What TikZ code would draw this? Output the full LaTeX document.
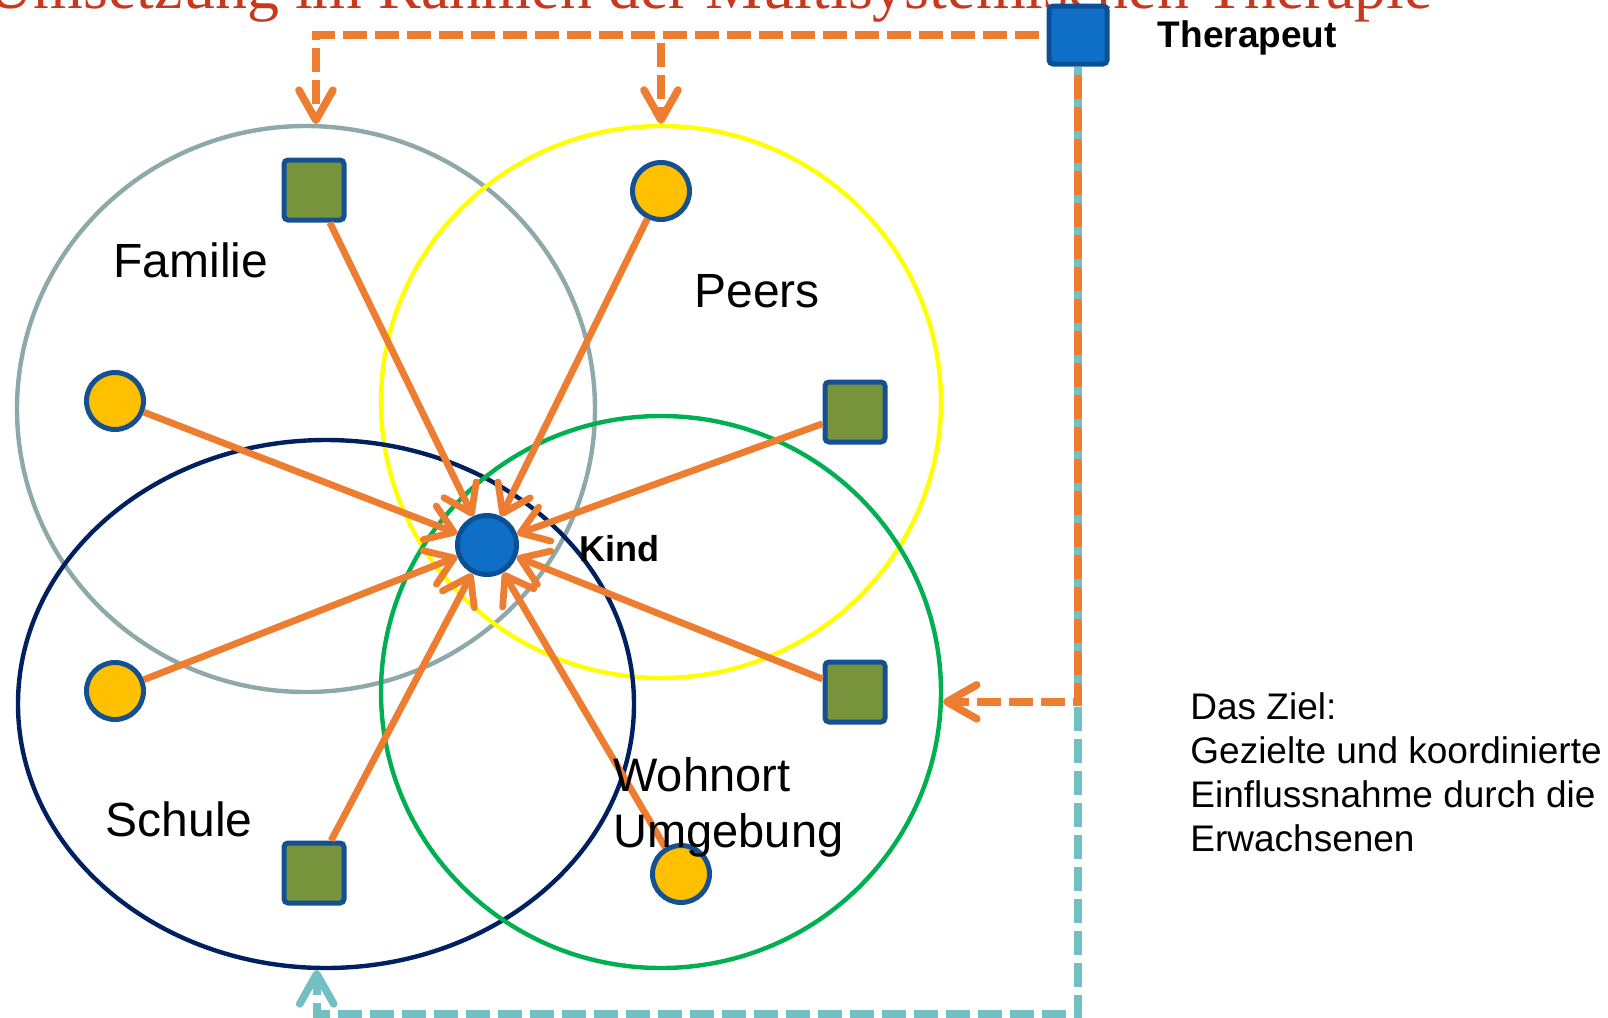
\documentclass[tikz,border=0pt]{standalone}
\usepackage{fontspec}
\setmainfont{Liberation Sans}
\newfontfamily\titelfont{Liberation Serif}
\usetikzlibrary{arrows.meta,positioning,shapes.geometric}
\definecolor{linie}{HTML}{ED7D31}
\definecolor{tuerkis}{HTML}{72BFC4}
\definecolor{grauring}{HTML}{8FA9AA}
\definecolor{gelbring}{HTML}{FFFF00}
\definecolor{marine}{HTML}{002060}
\definecolor{gruenring}{HTML}{00B050}
\definecolor{oliv}{HTML}{77933C}
\definecolor{rand}{HTML}{155192}
\definecolor{gold}{HTML}{FFC000}
\definecolor{blau}{HTML}{0F6FC6}
\definecolor{blaurand}{HTML}{0B4F95}
\definecolor{titelrot}{HTML}{C8381F}
\tikzstyle{system}=[
	ellipse,
	draw,
	line width=2.2pt,
	inner sep=0]
\tikzstyle{erwachsener}=[
	rectangle,
	rounded corners=2pt,
	draw=rand,
	fill=oliv,
	line width=2.5pt,
	minimum size=30pt]
\tikzstyle{person}=[
	circle,
	draw=rand,
	fill=gold,
	line width=2.5pt,
	minimum size=28.5pt]
\tikzstyle{kindpunkt}=[
	person,
	draw=blaurand,
	fill=blau,
	minimum size=29.5pt]
\tikzstyle{beschriftung}=[
	inner sep=0,
	font=\fontsize{24}{28}\selectfont]
\tikzstyle{einfluss}=[
	draw=linie,
	line width=3.4pt,
	-{Straight Barb[length=13pt,width=18pt,round]}]
\tikzstyle{auftrag}=[
	draw=linie,
	line width=3.8pt,
	dash pattern=on 12pt off 4pt,
	dash phase=12pt,
	-{Straight Barb[length=15pt,width=17pt,round]}]
\tikzstyle{rueckmeldung}=[
	auftrag,
	draw=tuerkis,
	dash phase=0pt]

\begin{document}
\begin{tikzpicture}[x=0.5pt,y=-0.5pt]
					\useasboundingbox (0,0) rectangle (1608,1018);
					\node[anchor=base east,inner sep=0,text=titelrot,font=\titelfont\fontsize{32}{36}\selectfont] (titel) at (1433,8) {Umsetzung im Rahmen der Multisystemischen Therapie};
					\begin{scope}
						\node[system,draw=grauring,minimum width=289pt,minimum height=283pt] (familie) at (306,409) {};
						\node[system,draw=gelbring,minimum width=280pt,minimum height=276pt] (peers) at (661,402) {};
						\node[system,draw=marine,minimum width=308pt,minimum height=264pt] (schule) at (326,704) {};
						\node[system,draw=gruenring,minimum width=280pt,minimum height=276pt] (wohnort) at (661,692) {};
					\end{scope}
					\begin{scope}
						\node[kindpunkt] (kind) at (487,545) {};
						\node[erwachsener] (famSq) at (314,190) {};
						\node[person] (famKr) at (115,401) {};
						\node[person] (peerKr) at (661,191) {};
						\node[erwachsener] (peerSq) at (855,412) {};
						\node[person] (schKr) at (115,691) {};
						\node[erwachsener] (schSq) at (314,873) {};
						\node[erwachsener] (wohnSq) at (855,692) {};
						\node[person] (wohnKr) at (681,874) {};
						\node[erwachsener,draw=blaurand,fill=blau,minimum size=29pt] (therapeut) at (1078,35) {};
						\draw[einfluss] (famSq) -- (kind);
						\draw[einfluss] (famKr) -- (kind);
						\draw[einfluss] (peerKr) -- (kind);
						\draw[einfluss] (peerSq) -- (kind);
						\draw[einfluss] (schKr) -- (kind);
						\draw[einfluss] (schSq) -- (kind);
						\draw[einfluss] (wohnSq) -- (kind);
						\draw[einfluss] (wohnKr) -- (kind);
					\end{scope}
					\begin{scope}
						\coordinate (abzweig) at (therapeut.west -| peers.north);
						\coordinate (ecke) at (therapeut.south |- 0,1014);
						\draw[auftrag] (therapeut.west) -| (familie.88);
						\draw[auftrag] (abzweig) -- (peers.north);
						\draw[rueckmeldung] (therapeut.south) -- (ecke) -| (schule.268);
						\draw[auftrag] (therapeut.south) |- (wohnort.-2);
					\end{scope}
					\begin{scope}[align=left]
						\node[beschriftung] (familietext) at (191,260) {Familie};
						\node[beschriftung] (peerstext) at (757,291) {Peers};
						\node[beschriftung] (schuletext) at (179,819) {Schule};
						\node[beschriftung,font=\fontsize{23.5}{28}\selectfont,anchor=north west] (wohnorttext) at (613,757) {Wohnort\\Umgebung};
						\node[beschriftung,font=\bfseries\fontsize{18}{22}\selectfont,yshift=-2pt] (kindtext) [right=30pt of kind] {Kind};
						\node[beschriftung,font=\bfseries\fontsize{18.5}{22}\selectfont,yshift=-1.5pt] (therapeuttext) [right=24pt of therapeut] {Therapeut};
						\node[beschriftung,font=\fontsize{18.5}{22}\selectfont,anchor=north west] (ziel) at (1190,692) {Das Ziel:\\Gezielte und koordinierte\\Einflussnahme durch die\\Erwachsenen};
					\end{scope}
\end{tikzpicture}
\end{document}
